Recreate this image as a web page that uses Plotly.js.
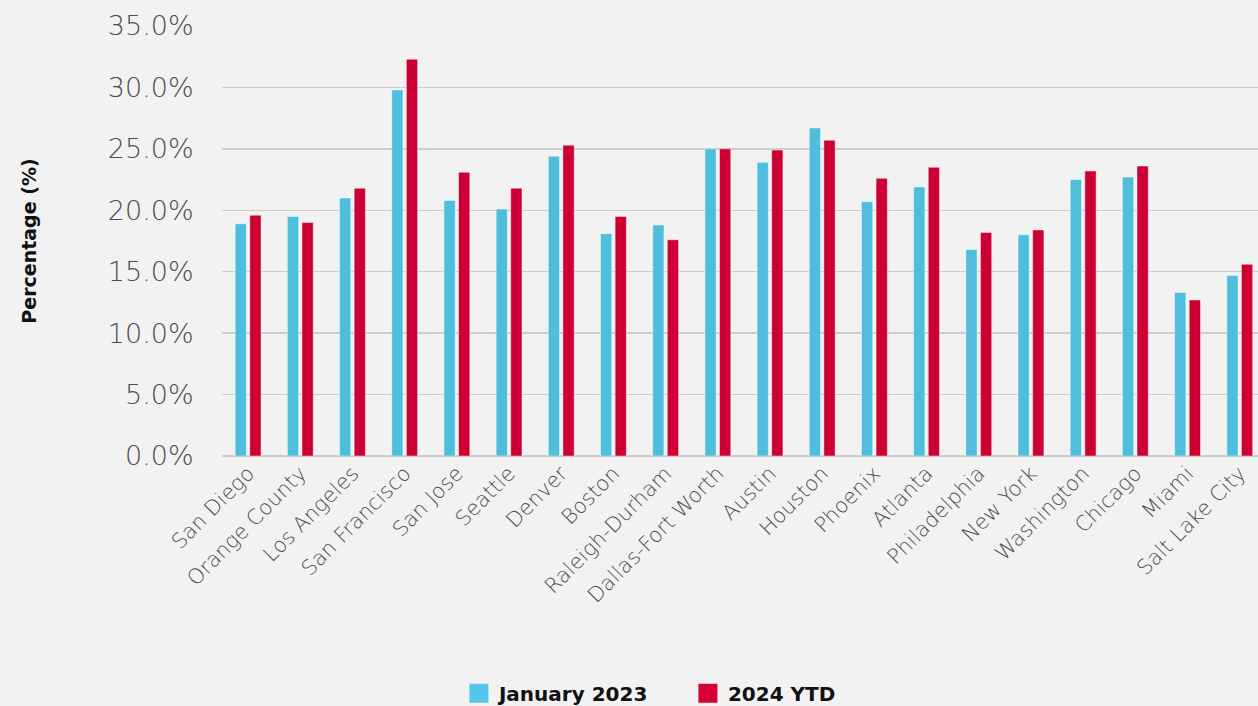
<!DOCTYPE html>
<html>
<head>
<meta charset="utf-8">
<script src="https://cdn.plot.ly/plotly-3.0.1.min.js"></script>
<style>html,body{margin:0;padding:0;background:#f2f2f2;}#chart{width:1258px;height:706px;}</style>
</head>
<body>
<div id="chart"></div>
<script>
const cities = ["San Diego","Orange County","Los Angeles","San Francisco","San Jose","Seattle","Denver","Boston","Raleigh-Durham","Dallas-Fort Worth","Austin","Houston","Phoenix","Atlanta","Philadelphia","New York","Washington","Chicago","Miami","Salt Lake City"];
const jan2023 = [18.9,19.5,21.0,29.8,20.8,20.1,24.4,18.1,18.8,25.0,23.9,26.7,20.7,21.9,16.8,18.0,22.5,22.7,13.3,14.7];
const ytd2024 = [19.6,19.0,21.8,32.3,23.1,21.8,25.3,19.5,17.6,25.0,24.9,25.7,22.6,23.5,18.2,18.4,23.2,23.6,12.7,15.6];
const seriesNames = ["January 2023","2024 YTD"];
const seriesColors = ['#4fbedd','#cc0033'];
const legendColors = ['#55c8ea','#d80032'];
const yTicks = [0,5,10,15,20,25,30,35];

const traces = [
  {type:'bar', name:seriesNames[0], x:cities, y:jan2023, showlegend:false,
   marker:{color:seriesColors[0], line:{color:'rgba(255,255,255,0.45)', width:1}}},
  {type:'bar', name:seriesNames[1], x:cities, y:ytd2024, showlegend:false,
   marker:{color:seriesColors[1], line:{color:'rgba(255,255,255,0.45)', width:1}}},
  {type:'scatter', mode:'markers', name:seriesNames[0], x:[cities[0]], y:[null], showlegend:true,
   marker:{symbol:'square', size:20, color:legendColors[0], line:{color:legendColors[0], width:3}}},
  {type:'scatter', mode:'markers', name:seriesNames[1], x:[cities[0]], y:[null], showlegend:true,
   marker:{symbol:'square', size:20, color:legendColors[1], line:{color:legendColors[1], width:3}}}
];

const LIGHT = '"DejaVu Sans", sans-serif';

const layout = {
  width:1258, height:706,
  paper_bgcolor:'#f2f2f2', plot_bgcolor:'#f2f2f2',
  margin:{l:222, r:0, t:26, b:250},
  barmode:'group', bargap:0.44, bargroupgap:0.23,
  font:{family:LIGHT, color:'#555'},
  xaxis:{
    type:'category', range:[-0.5,19.35], tickangle:-45,
    tickfont:{size:21, color:'#4d4d4d', family:LIGHT, weight:300},
    showgrid:false, zeroline:false, showline:false, ticks:'', automargin:false
  },
  yaxis:{
    range:[0,35], tickvals:yTicks, ticktext:yTicks.map(v=>v.toFixed(1)+'%'),
    tickfont:{size:27, color:'#4d4d4d', family:LIGHT, weight:300},
    showgrid:true, gridcolor:'#cccccc', gridwidth:1.5,
    zeroline:true, zerolinecolor:'#cccccc', zerolinewidth:1.5,
    ticks:'outside', ticklen:22, tickcolor:'rgba(0,0,0,0)', automargin:false,
    title:{text:'Percentage (%)', font:{size:19, color:'#111', family:LIGHT, weight:700}, standoff:66}
  },
  legend:{
    orientation:'h', xref:'container', yref:'container', x:0.3648, y:0.018,
    xanchor:'left', yanchor:'middle',
    font:{size:20, color:'#111', family:LIGHT, weight:700},
    itemwidth:30, traceorder:'normal', entrywidth:184, entrywidthmode:'pixels'
  },
  showlegend:true
};

Plotly.newPlot('chart', traces, layout, {displayModeBar:false, staticPlot:true});
</script>
</body>
</html>
